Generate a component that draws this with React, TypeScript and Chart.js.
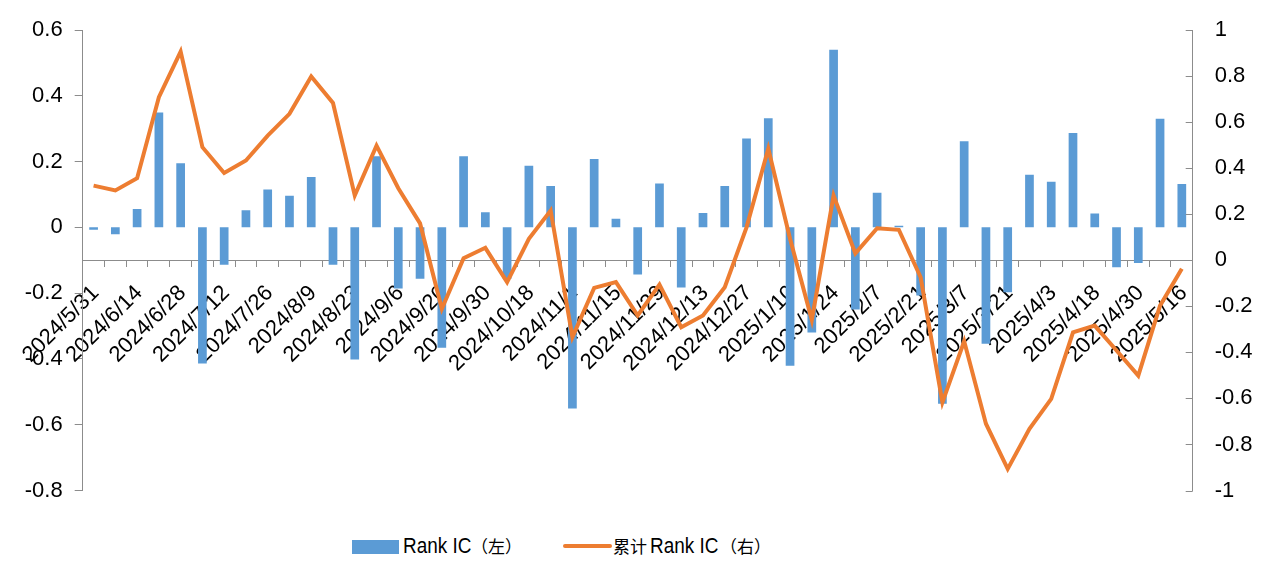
import React, { useEffect, useRef } from 'react';
import { Chart, registerables } from 'chart.js';

Chart.register(...registerables);

const dates = [
  '2024/5/31', '2024/6/7', '2024/6/14', '2024/6/21', '2024/6/28', '2024/7/5', '2024/7/12', '2024/7/19',
  '2024/7/26', '2024/8/2', '2024/8/9', '2024/8/16', '2024/8/23', '2024/8/30', '2024/9/6', '2024/9/13',
  '2024/9/20', '2024/9/27', '2024/9/30', '2024/10/11', '2024/10/18', '2024/10/25', '2024/11/1', '2024/11/8',
  '2024/11/15', '2024/11/22', '2024/11/29', '2024/12/6', '2024/12/13', '2024/12/20', '2024/12/27', '2025/1/3',
  '2025/1/10', '2025/1/17', '2025/1/24', '2025/1/27', '2025/2/7', '2025/2/14', '2025/2/21', '2025/2/28',
  '2025/3/7', '2025/3/14', '2025/3/21', '2025/3/28', '2025/4/3', '2025/4/11', '2025/4/18', '2025/4/25',
  '2025/4/30', '2025/5/9', '2025/5/16',
];

const rankIC = [
  -0.007, -0.021, 0.056, 0.349, 0.195, -0.414, -0.114, 0.052,
  0.115, 0.096, 0.153, -0.114, -0.402, 0.216, -0.186, -0.156,
  -0.366, 0.216, 0.046, -0.156, 0.187, 0.126, -0.551, 0.208,
  0.026, -0.143, 0.133, -0.183, 0.044, 0.126, 0.27, 0.332,
  -0.421, -0.32, 0.54, -0.25, 0.105, 0.005, -0.207, -0.536,
  0.262, -0.354, -0.197, 0.16, 0.139, 0.287, 0.042, -0.121,
  -0.108, 0.33, 0.132,
];

const cumRankIC = [
  0.324, 0.303, 0.356, 0.708, 0.906, 0.491, 0.379, 0.433,
  0.541, 0.636, 0.798, 0.683, 0.281, 0.498, 0.313, 0.16,
  -0.211, 0.009, 0.054, -0.095, 0.093, 0.216, -0.334, -0.12,
  -0.095, -0.24, -0.106, -0.291, -0.24, -0.117, 0.143, 0.484,
  0.093, -0.259, 0.281, 0.03, 0.139, 0.132, -0.074, -0.617,
  -0.352, -0.71, -0.906, -0.732, -0.602, -0.313, -0.284, -0.392,
  -0.501, -0.197, -0.037,
];

const BLUE = '#5B9BD5';
const ORANGE = '#ED7D31';
const AXIS = '#8C8C8C';
const FONT = "'Liberation Sans', Arial, sans-serif";

const fmt = (v: any) => {
  const r = Math.round(Number(v) * 10) / 10;
  return r === 0 ? '0' : String(r);
};

export default function App() {
  const ref = useRef<HTMLCanvasElement>(null);

  useEffect(() => {
    const inwardTicks = {
      id: 'inwardTicks',
      afterDraw(chart: any) {
        const s = chart.scales.y1;
        const ctx = chart.ctx;
        ctx.save();
        ctx.strokeStyle = AXIS;
        ctx.lineWidth = 1;
        s.ticks.forEach((t: any) => {
          const y = Math.round(s.getPixelForValue(t.value)) + 0.5;
          ctx.beginPath();
          ctx.moveTo(s.left - 7, y);
          ctx.lineTo(s.left, y);
          ctx.stroke();
        });
        ctx.restore();
      },
    };

    const chart = new Chart(ref.current as HTMLCanvasElement, {
      type: 'bar',
      data: {
        labels: dates,
        datasets: [
          {
            type: 'bar',
            label: 'Rank IC（左）',
            data: rankIC,
            backgroundColor: BLUE,
            yAxisID: 'y',
            xAxisID: 'x',
            categoryPercentage: 0.4,
            barPercentage: 1,
            order: 2,
          },
          {
            type: 'line',
            label: '累计Rank IC（右）',
            data: cumRankIC,
            borderColor: ORANGE,
            backgroundColor: ORANGE,
            borderWidth: 4,
            pointRadius: 0,
            tension: 0,
            yAxisID: 'y1',
            xAxisID: 'x',
            order: 1,
          },
        ],
      },
      plugins: [inwardTicks],
      options: {
        responsive: false,
        animation: false,
        layout: { padding: { left: 0, right: 0, top: 30, bottom: 39.5 } },
        plugins: {
          legend: { display: false },
          tooltip: { enabled: false },
        },
        scales: {
          x: {
            type: 'category',
            position: { y1: 0 } as any,
            offset: true,
            afterFit: (s: any) => { s.height = 0; },
            grid: { display: true, drawOnChartArea: false, offset: true, tickLength: 6, color: AXIS },
            border: { display: true, color: AXIS },
            ticks: {
              autoSkip: false,
              maxRotation: 45,
              minRotation: 45,
              padding: 14,
              labelOffset: 2,
              color: '#000',
              font: { family: FONT, size: 22 },
              callback: (_v: any, i: number) => (i % 2 === 0 ? dates[i] : ''),
            },
          },
          y: {
            position: 'left',
            min: -0.8,
            max: 0.6,
            afterFit: (s: any) => { s.width = 82.7; },
            grid: { display: true, drawOnChartArea: false, tickLength: 8, color: AXIS },
            border: { display: true, color: AXIS },
            ticks: { stepSize: 0.2, padding: 12, color: '#000', font: { family: FONT, size: 22 }, callback: fmt },
          },
          y1: {
            position: 'right',
            min: -1,
            max: 1,
            afterFit: (s: any) => { s.width = 1272 - 1192.7; },
            grid: { display: true, drawOnChartArea: false, drawTicks: true, tickLength: 22, tickColor: 'rgba(0,0,0,0)', color: AXIS },
            border: { display: true, color: AXIS },
            ticks: { stepSize: 0.2, padding: 0, color: '#000', font: { family: FONT, size: 22 }, callback: fmt },
          },
        },
      },
    });
    return () => chart.destroy();
  }, []);

  const latin = "'Liberation Sans', Arial, sans-serif";
  const cjk = "'Noto Sans CJK SC', sans-serif";
  const txt = (left: number, content: string, isCjk: boolean) => (
    <span
      style={{
        position: 'absolute',
        left,
        top: 531,
        height: 30,
        lineHeight: '30px',
        whiteSpace: 'nowrap',
        color: '#000',
        fontFamily: isCjk ? cjk : latin,
        fontSize: isCjk ? 17 : 22,
        transform: isCjk ? undefined : 'scaleX(0.86)',
        transformOrigin: 'left center',
      }}
    >
      {content}
    </span>
  );

  return (
    <div style={{ position: 'absolute', left: 0, top: 0, width: 1272, height: 573, background: '#fff', overflow: 'hidden' }}>
      <canvas ref={ref} width={1272} height={530} style={{ position: 'absolute', left: 0, top: 0, width: 1272, height: 530 }} />
      <div style={{ position: 'absolute', left: 352, top: 539.5, width: 47, height: 14, background: BLUE }} />
      {txt(403, 'Rank IC', false)}
      {txt(471, '（左）', true)}
      <div style={{ position: 'absolute', left: 563, top: 544, width: 49, height: 4, borderRadius: 2, background: ORANGE }} />
      {txt(613, '累计', true)}
      {txt(650, 'Rank IC', false)}
      {txt(720, '（右）', true)}
    </div>
  );
}
